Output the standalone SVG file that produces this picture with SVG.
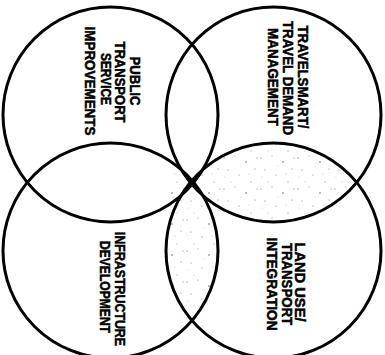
<svg xmlns="http://www.w3.org/2000/svg" width="385" height="355" viewBox="0 0 385 355">
<style>
.c{fill:none;stroke:#000;stroke-width:3}
.t{font-family:"Liberation Sans Narrow","Liberation Sans",Arial,sans-serif;font-weight:bold;font-size:14px;fill:#000;stroke:#000;stroke-width:0.5;text-anchor:middle}
</style>
<defs>
<pattern id="dots" width="37" height="31" patternUnits="userSpaceOnUse">
<circle cx="2" cy="3" r="0.6" fill="#555"/>
<circle cx="13" cy="1" r="0.5" fill="#777"/>
<circle cx="24" cy="7" r="0.7" fill="#444"/>
<circle cx="33" cy="14" r="0.5" fill="#666"/>
<circle cx="6" cy="15" r="0.6" fill="#777"/>
<circle cx="17" cy="20" r="0.5" fill="#555"/>
<circle cx="29" cy="27" r="0.6" fill="#888"/>
<circle cx="9" cy="27" r="0.4" fill="#666"/>
<circle cx="19" cy="11" r="0.4" fill="#999"/>
<circle cx="35" cy="3" r="0.5" fill="#666"/>
<circle cx="27" cy="19" r="0.4" fill="#888"/>
<circle cx="3" cy="22" r="0.4" fill="#999"/>
</pattern>
<clipPath id="cTR"><circle cx="273.5" cy="114.5" r="107.5"/></clipPath>
<clipPath id="cBL"><circle cx="110.5" cy="250.5" r="107.5"/></clipPath>
<clipPath id="cTL"><circle cx="110.5" cy="114.5" r="107.5"/></clipPath>
</defs>
<g id="stipple">
<g clip-path="url(#cTR)"><circle cx="273.5" cy="250.5" r="107.5" fill="url(#dots)"/></g>
<g clip-path="url(#cBL)"><circle cx="273.5" cy="250.5" r="107.5" fill="url(#dots)"/></g>
<g clip-path="url(#cTL)"><g clip-path="url(#cBL)"><rect x="170" y="160" width="25" height="45" fill="url(#dots)"/></g></g>
</g>
<g id="node-public-transport">
<circle class="c" cx="110.5" cy="114.5" r="107.5"/>
<text class="t" transform="translate(130,81) rotate(90)" textLength="49" lengthAdjust="spacingAndGlyphs">PUBLIC</text>
<text class="t" transform="translate(115,82) rotate(90)" textLength="81" lengthAdjust="spacingAndGlyphs">TRANSPORT</text>
<text class="t" transform="translate(101,79) rotate(90)" textLength="52" lengthAdjust="spacingAndGlyphs">SERVICE</text>
<text class="t" transform="translate(85,81) rotate(90)" textLength="109" lengthAdjust="spacingAndGlyphs">IMPROVEMENTS</text>
</g>
<g id="node-travelsmart">
<circle class="c" cx="273.5" cy="114.5" r="107.5"/>
<text class="t" transform="translate(298,77) rotate(90)" textLength="103" lengthAdjust="spacingAndGlyphs">TRAVELSMART/</text>
<text class="t" transform="translate(283,78) rotate(90)" textLength="114" lengthAdjust="spacingAndGlyphs">TRAVEL DEMAND</text>
<text class="t" transform="translate(268,77) rotate(90)" textLength="98" lengthAdjust="spacingAndGlyphs">MANAGEMENT</text>
</g>
<g id="node-infrastructure">
<circle class="c" cx="110.5" cy="250.5" r="107.5"/>
<text class="t" transform="translate(115,289) rotate(90)" textLength="114" lengthAdjust="spacingAndGlyphs">INFRASTRUCTURE</text>
<text class="t" transform="translate(100,287) rotate(90)" textLength="92" lengthAdjust="spacingAndGlyphs">DEVELOPMENT</text>
</g>
<g id="node-land-use">
<circle class="c" cx="273.5" cy="250.5" r="107.5"/>
<text class="t" transform="translate(295,282) rotate(90)" textLength="79" lengthAdjust="spacingAndGlyphs">LAND USE/</text>
<text class="t" transform="translate(282,284) rotate(90)" textLength="82" lengthAdjust="spacingAndGlyphs">TRANSPORT</text>
<text class="t" transform="translate(267,284) rotate(90)" textLength="93" lengthAdjust="spacingAndGlyphs">INTEGRATION</text>
</g>
<g id="connectors"></g>
</svg>
